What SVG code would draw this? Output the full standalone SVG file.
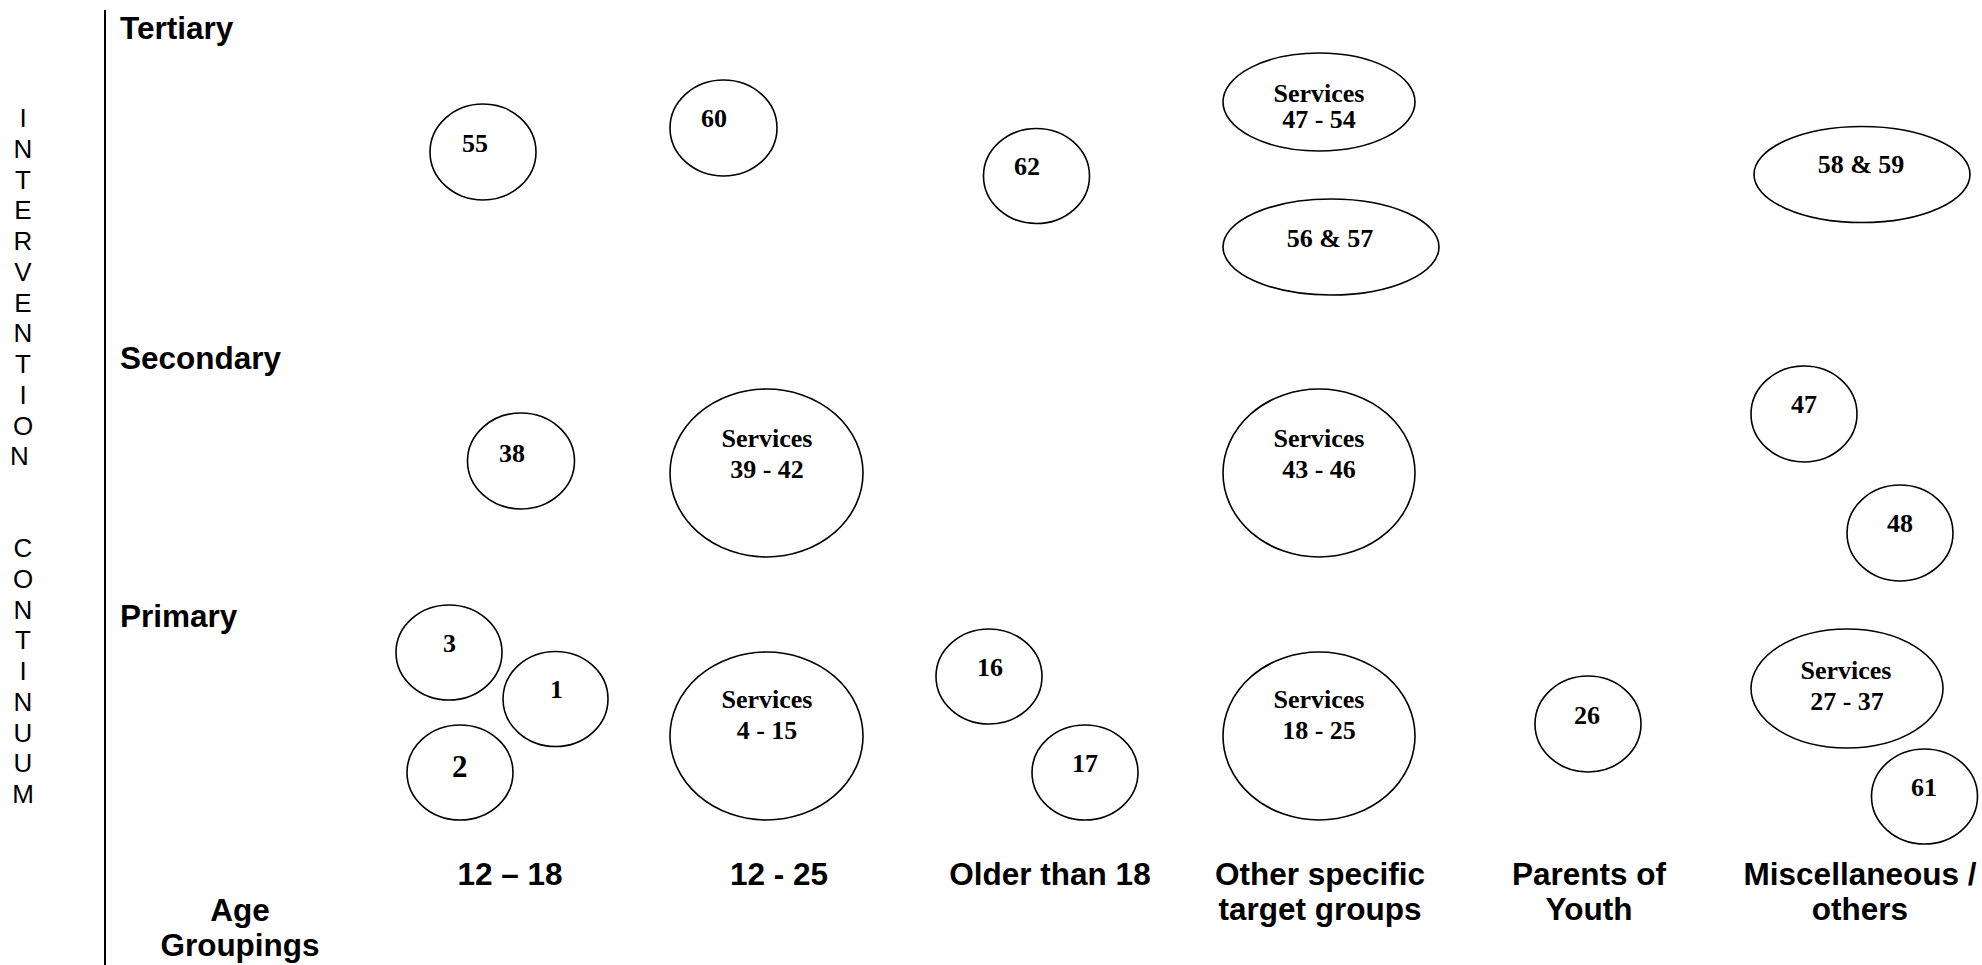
<svg xmlns="http://www.w3.org/2000/svg" width="1982" height="965" viewBox="0 0 1982 965">
<style>
.n{fill:#fff;stroke:#000;stroke-width:1.6}
.t{font-family:"Liberation Serif","Times New Roman",serif;font-weight:bold;font-size:26px;fill:#000}
.c{text-anchor:middle}
.h{font-family:"Liberation Sans",Arial,sans-serif;font-weight:bold;font-size:31.5px;fill:#000}
.v{font-family:"Liberation Sans",Arial,sans-serif;font-size:26px;fill:#000;text-anchor:middle}
</style>
<rect width="1982" height="965" fill="#fff"/>
<g id="axis">
<line x1="105" y1="10" x2="105" y2="965" stroke="#000" stroke-width="2"/>
<text class="v">
<tspan x="23" y="127">I</tspan><tspan x="23" y="157.75">N</tspan><tspan x="23" y="188.5">T</tspan><tspan x="23" y="219.25">E</tspan><tspan x="23" y="250">R</tspan><tspan x="23" y="280.75">V</tspan><tspan x="23" y="311.5">E</tspan><tspan x="23" y="342.25">N</tspan><tspan x="23" y="373">T</tspan><tspan x="23" y="403.75">I</tspan><tspan x="23" y="434.5">O</tspan><tspan x="23" y="465.25">N</tspan>
<tspan x="23" y="557">C</tspan><tspan x="23" y="587.75">O</tspan><tspan x="23" y="618.5">N</tspan><tspan x="23" y="649.25">T</tspan><tspan x="23" y="680">I</tspan><tspan x="23" y="710.75">N</tspan><tspan x="23" y="741.5">U</tspan><tspan x="23" y="772.25">U</tspan><tspan x="23" y="803">M</tspan>
</text>
<text class="h" x="120" y="39">Tertiary</text>
<text class="h" x="120" y="369">Secondary</text>
<text class="h" x="120" y="627">Primary</text>
<text class="h c" x="240" y="921">Age</text>
<text class="h c" x="240" y="956">Groupings</text>
<text class="h c" x="510" y="885">12 – 18</text>
<text class="h c" x="779" y="885">12 - 25</text>
<text class="h c" x="1050" y="885">Older than 18</text>
<text class="h c" x="1320" y="885">Other specific</text>
<text class="h c" x="1320" y="920">target groups</text>
<text class="h c" x="1589" y="885">Parents of</text>
<text class="h c" x="1589" y="920">Youth</text>
<text class="h c" x="1860" y="885">Miscellaneous /</text>
<text class="h c" x="1860" y="920">others</text>
</g>
<g id="connectors"></g>
<g id="n55"><ellipse class="n" cx="483" cy="152" rx="53" ry="48"/><text class="t" x="462" y="152">55</text></g>
<g id="n60"><ellipse class="n" cx="723.5" cy="128" rx="53.5" ry="48"/><text class="t" x="701" y="127">60</text></g>
<g id="n62"><ellipse class="n" cx="1036.5" cy="176" rx="53" ry="47.5"/><text class="t" x="1014" y="175">62</text></g>
<g id="n47_54"><ellipse class="n" cx="1319" cy="102" rx="96" ry="49"/><text class="t c" x="1319" y="102">Services</text><text class="t c" x="1319" y="128">47 - 54</text></g>
<g id="n56_57"><ellipse class="n" cx="1331" cy="247" rx="108" ry="48"/><text class="t c" x="1330" y="247">56 &amp; 57</text></g>
<g id="n58_59"><ellipse class="n" cx="1862" cy="174.5" rx="108" ry="48"/><text class="t c" x="1861" y="173">58 &amp; 59</text></g>
<g id="n38"><ellipse class="n" cx="521" cy="461" rx="53.5" ry="48"/><text class="t" x="499" y="462">38</text></g>
<g id="n39_42"><ellipse class="n" cx="766.5" cy="473" rx="96.5" ry="84"/><text class="t c" x="767" y="447">Services</text><text class="t c" x="767" y="478">39 - 42</text></g>
<g id="n43_46"><ellipse class="n" cx="1319" cy="473" rx="96" ry="84"/><text class="t c" x="1319" y="447">Services</text><text class="t c" x="1319" y="478">43 - 46</text></g>
<g id="n47"><ellipse class="n" cx="1804" cy="414" rx="53" ry="48"/><text class="t" x="1791" y="413">47</text></g>
<g id="n48"><ellipse class="n" cx="1900" cy="533" rx="53" ry="48"/><text class="t" x="1887" y="532">48</text></g>
<g id="n3"><ellipse class="n" cx="449" cy="652.5" rx="53" ry="47.5"/><text class="t" x="443" y="652">3</text></g>
<g id="n1"><ellipse class="n" cx="555.5" cy="699" rx="52.5" ry="47.5"/><text class="t" x="550" y="698">1</text></g>
<g id="n2"><ellipse class="n" cx="460" cy="772.5" rx="53" ry="47.5"/><text class="t" x="452" y="777" style="font-size:31px">2</text></g>
<g id="n4_15"><ellipse class="n" cx="766.5" cy="736" rx="96.5" ry="84"/><text class="t c" x="767" y="708">Services</text><text class="t c" x="767" y="739">4 - 15</text></g>
<g id="n16"><ellipse class="n" cx="989" cy="676.5" rx="53" ry="47.5"/><text class="t" x="977" y="676">16</text></g>
<g id="n17"><ellipse class="n" cx="1085" cy="772.5" rx="53" ry="47.5"/><text class="t" x="1072" y="772">17</text></g>
<g id="n18_25"><ellipse class="n" cx="1319" cy="736" rx="96" ry="84"/><text class="t c" x="1319" y="708">Services</text><text class="t c" x="1319" y="739">18 - 25</text></g>
<g id="n26"><ellipse class="n" cx="1588" cy="724" rx="53" ry="48"/><text class="t" x="1574" y="724">26</text></g>
<g id="n27_37"><ellipse class="n" cx="1847" cy="688.5" rx="96" ry="59.5"/><text class="t c" x="1846" y="679">Services</text><text class="t c" x="1847" y="710">27 - 37</text></g>
<g id="n61"><ellipse class="n" cx="1924.5" cy="796.5" rx="53" ry="47.5"/><text class="t" x="1911" y="796">61</text></g>
</svg>
